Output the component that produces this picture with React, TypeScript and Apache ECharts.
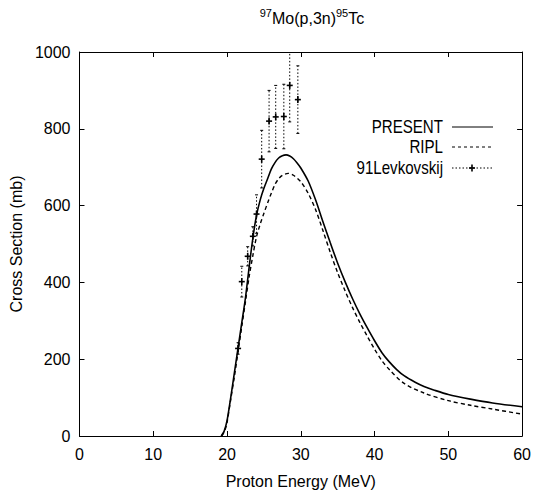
import React, { useEffect, useRef } from "react";
import * as echarts from "echarts";

// PRESENT calculation (solid)
const presentEnergy = [19.2, 19.6, 20.0, 20.5, 21.0, 21.5, 22.0, 22.5, 23.0, 23.5, 24.0, 24.5, 25.0, 25.5, 26.0, 26.5, 27.0, 27.5, 28.0, 28.5, 29.0, 29.5, 30.0, 31.0, 32.0, 33.0, 34.0, 35.0, 36.0, 37.0, 38.0, 39.0, 40.0, 41.0, 42.0, 43.0, 44.0, 45.5, 46.7, 48.0, 50.0, 53.0, 56.0, 60.0];
const presentSigma = [0, 12, 40, 100, 165, 230, 295, 360, 440, 515, 575, 615, 645, 670, 695, 712, 724, 730, 732, 729, 722, 711, 698, 664, 615, 558, 503, 450, 402, 358, 318, 282, 248, 217, 193, 173, 157, 140, 129, 120, 108, 96, 86, 76];

// RIPL (dashed)
const riplEnergy = [19.3, 19.7, 20.0, 20.5, 21.0, 21.5, 22.0, 22.5, 23.0, 23.5, 24.0, 24.5, 25.0, 25.6, 26.0, 26.5, 27.0, 27.5, 28.3, 29.0, 30.0, 31.0, 32.0, 33.0, 34.0, 35.0, 36.0, 37.0, 38.0, 39.0, 40.0, 41.0, 42.0, 44.0, 46.7, 50.0, 53.0, 56.0, 60.0];
const riplSigma = [0, 14, 35, 95, 155, 220, 285, 350, 415, 470, 519, 552, 580, 612, 632, 655, 670, 679, 684, 679, 662, 632, 590, 535, 478, 425, 378, 335, 296, 260, 226, 196, 173, 137, 112, 92, 80, 70, 57];

// 91Levkovskij experimental data
const levkEnergy = [21.5, 22.0, 22.8, 23.5, 24.0, 24.7, 25.7, 26.6, 27.7, 28.5, 29.6];
const levkSigma = [228, 402, 468, 520, 578, 721, 820, 831, 832, 913, 876];
const levkError = [15, 40, 25, 25, 50, 75, 80, 82, 84, 95, 88];

const xTicks = [0, 10, 20, 30, 40, 50, 60];
const yTicks = [0, 200, 400, 600, 800, 1000];

const legendNames = ["PRESENT", "RIPL", "91Levkovskij"];

const FONT = "'Liberation Sans', Arial, Helvetica, sans-serif";

export default function App() {
  const ref = useRef<HTMLDivElement>(null);

  useEffect(() => {
    if (!ref.current) return;
    const chart = echarts.init(ref.current, null, { renderer: "svg" });

    const present = presentEnergy.map((e, i) => [e, presentSigma[i]]);
    const ripl = riplEnergy.map((e, i) => [e, riplSigma[i]]);
    const levk = levkEnergy.map((e, i) => [e, levkSigma[i], levkError[i]]);

    const axisLine = { show: true, onZero: false, lineStyle: { color: "#000", width: 1 } };
    const tick = { show: true, inside: true, length: 5, lineStyle: { color: "#000", width: 1 } };

    const legendY = [127, 147, 168];
    const lx1 = 452;
    const lx2 = 493;

    const option: any = {
      animation: false,
      backgroundColor: "#fff",
      grid: { left: 77, right: 9, top: 52, bottom: 64, containLabel: false },
      xAxis: [
        {
          type: "value",
          min: xTicks[0],
          max: xTicks[xTicks.length - 1],
          interval: 10,
          position: "bottom",
          axisLine,
          axisTick: tick,
          splitLine: { show: false },
          axisLabel: { color: "#000", fontSize: 16, fontFamily: FONT, margin: 10 },
          name: "Proton Energy (MeV)",
          nameLocation: "middle",
          nameGap: 37,
          nameTextStyle: { color: "#000", fontSize: 16, fontFamily: FONT },
        },
        {
          type: "value",
          min: xTicks[0],
          max: xTicks[xTicks.length - 1],
          interval: 10,
          position: "top",
          axisLine,
          axisTick: tick,
          splitLine: { show: false },
          axisLabel: { show: false },
        },
      ],
      yAxis: [
        {
          type: "value",
          min: yTicks[0],
          max: yTicks[yTicks.length - 1],
          interval: 200,
          position: "left",
          axisLine,
          axisTick: tick,
          splitLine: { show: false },
          axisLabel: { color: "#000", fontSize: 16, fontFamily: FONT, margin: 9, formatter: (v: number) => String(v) },
          name: "Cross Section (mb)",
          nameLocation: "middle",
          nameGap: 52,
          nameTextStyle: { color: "#000", fontSize: 16, fontFamily: FONT },
        },
        {
          type: "value",
          min: yTicks[0],
          max: yTicks[yTicks.length - 1],
          interval: 200,
          position: "right",
          axisLine,
          axisTick: tick,
          splitLine: { show: false },
          axisLabel: { show: false },
        },
      ],
      series: [
        {
          name: legendNames[0],
          type: "line",
          data: present,
          showSymbol: false,
          smooth: 0.3,
          lineStyle: { color: "#000", width: 1.6 },
          z: 3,
        },
        {
          name: legendNames[1],
          type: "line",
          data: ripl,
          showSymbol: false,
          smooth: 0.3,
          lineStyle: { color: "#000", width: 1.4, type: [4, 3] },
          z: 3,
        },
        {
          name: legendNames[2],
          type: "custom",
          data: levk,
          clip: true,
          encode: { x: 0, y: 1 },
          renderItem: (params: any, api: any) => {
            const x = api.value(0);
            const y = api.value(1);
            const e = api.value(2);
            const p = api.coord([x, y]);
            const lo = api.coord([x, y - e]);
            const hi = api.coord([x, y + e]);
            const dot = { stroke: "#000", lineWidth: 1, lineDash: [1.5, 2] };
            const solid = { stroke: "#000", lineWidth: 1.6 };
            return {
              type: "group",
              children: [
                { type: "line", shape: { x1: p[0], y1: lo[1], x2: p[0], y2: hi[1] }, style: dot },
                { type: "line", shape: { x1: p[0] - 1.5, y1: lo[1], x2: p[0] + 1.5, y2: lo[1] }, style: { stroke: "#000", lineWidth: 1 } },
                { type: "line", shape: { x1: p[0] - 1.5, y1: hi[1], x2: p[0] + 1.5, y2: hi[1] }, style: { stroke: "#000", lineWidth: 1 } },
                { type: "line", shape: { x1: p[0] - 3, y1: p[1], x2: p[0] + 3, y2: p[1] }, style: solid },
                { type: "line", shape: { x1: p[0], y1: p[1] - 3.5, x2: p[0], y2: p[1] + 3.5 }, style: solid },
              ],
            };
          },
          z: 4,
        },
      ],
      graphic: [
        {
          type: "text",
          x: 312,
          y: 17,
          style: {
            text: "{s|97}{n|Mo(p,3n)}{s|95}{n|Tc}",
            align: "center",
            verticalAlign: "middle",
            fill: "#000",
            rich: {
              n: { fontSize: 16, fontFamily: FONT, fill: "#000", verticalAlign: "bottom", lineHeight: 19 },
              s: { fontSize: 11, fontFamily: FONT, fill: "#000", verticalAlign: "top", lineHeight: 19, padding: [0, 0, 8, 0] },
            },
          },
        },
        ...legendNames.map((n, i) => ({
          type: "text",
          x: 443,
          y: legendY[i],
          scaleX: 0.84,
          style: { text: n, align: "right", verticalAlign: "middle", fontSize: 18, fontFamily: FONT, fill: "#000" },
        })),
        { type: "line", shape: { x1: lx1, y1: legendY[0], x2: lx2, y2: legendY[0] }, style: { stroke: "#000", lineWidth: 1 } },
        { type: "line", shape: { x1: lx1, y1: legendY[1], x2: lx2, y2: legendY[1] }, style: { stroke: "#000", lineWidth: 1, lineDash: [3, 3] } },
        { type: "line", shape: { x1: lx1, y1: legendY[2], x2: lx2, y2: legendY[2] }, style: { stroke: "#000", lineWidth: 1, lineDash: [1.5, 2] } },
        { type: "line", shape: { x1: 469, y1: legendY[2], x2: 475, y2: legendY[2] }, style: { stroke: "#000", lineWidth: 1.6 } },
        { type: "line", shape: { x1: 472, y1: legendY[2] - 3.5, x2: 472, y2: legendY[2] + 3.5 }, style: { stroke: "#000", lineWidth: 1.6 } },
      ],
    };

    chart.setOption(option);
    return () => chart.dispose();
  }, []);

  return (
    <div
      ref={ref}
      style={{ position: "fixed", left: 0, top: 0, width: 534, height: 500, background: "#fff" }}
    />
  );
}
